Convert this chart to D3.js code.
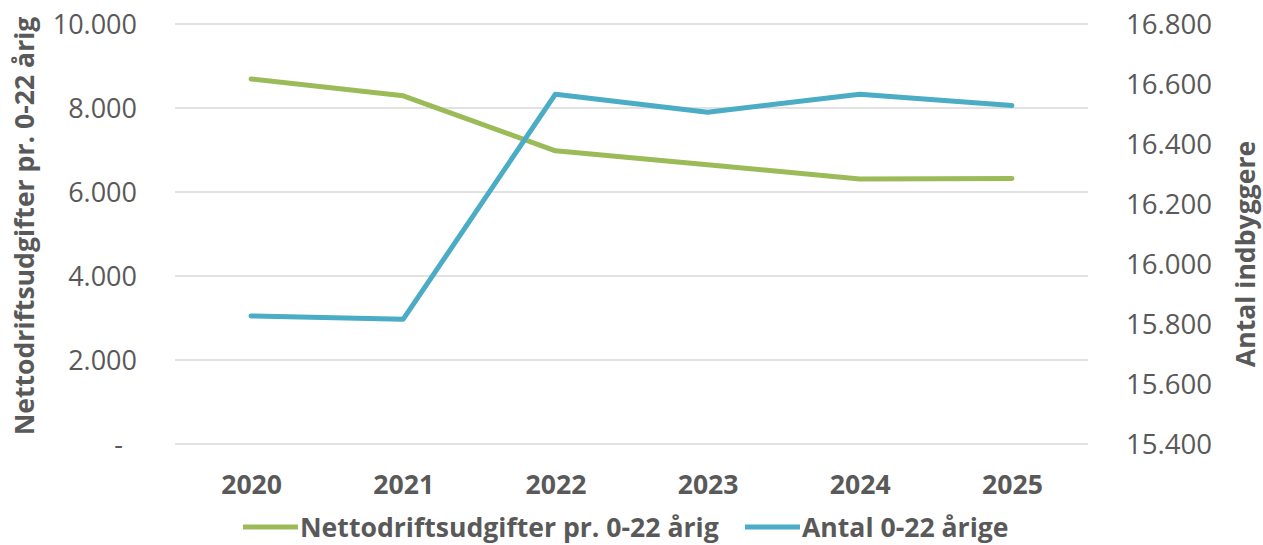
<!DOCTYPE html>
<html>
<head>
<meta charset="utf-8">
<script src="https://cdn.jsdelivr.net/npm/d3@7"></script>
<style>
  body { margin: 0; background: #fff; }
  svg { display: block; font-family: "Open Sans", sans-serif; }
</style>
</head>
<body>
<svg id="chart"></svg>
<script>
const years = ["2020", "2021", "2022", "2023", "2024", "2025"];
const nettoUdgift = [8690, 8290, 6980, 6650, 6310, 6320];
const antalBorn = [15827, 15816, 16566, 16506, 16566, 16528];
const leftTicks = [0, 2000, 4000, 6000, 8000, 10000];
const rightTicks = [15400, 15600, 15800, 16000, 16200, 16400, 16600, 16800];
const seriesNames = ["Nettodriftsudgifter pr. 0-22 årig", "Antal 0-22 årige"];

const width = 1263, height = 545;
const svg = d3.select("#chart").attr("width", width).attr("height", height);

const margin = {top: 24, right: 175, bottom: 101, left: 175};
const textCol = "#595959";
const green = "#9bbb59", blue = "#4bacc6";
const boldSize = 26.6;

const x = d3.scalePoint()
    .domain(years)
    .range([margin.left, width - margin.right])
    .padding(0.5);

const yLeft = d3.scaleLinear()
    .domain([0, 10000])
    .range([height - margin.bottom, margin.top]);

const yRight = d3.scaleLinear()
    .domain([15400, 16800])
    .range([height - margin.bottom, margin.top]);

const fmt = v => v === 0 ? "-" : d3.format(",")(v).replace(/,/g, ".");

// gridlines (left axis only)
svg.append("g")
  .selectAll("line")
  .data(leftTicks)
  .join("line")
    .attr("x1", margin.left)
    .attr("x2", width - margin.right)
    .attr("y1", d => yLeft(d))
    .attr("y2", d => yLeft(d))
    .attr("stroke", "#d9d9d9")
    .attr("stroke-width", 1.5);

// left axis
const gl = svg.append("g")
    .attr("transform", `translate(${margin.left - 38},0)`)
    .call(d3.axisLeft(yLeft).tickValues(leftTicks).tickFormat(fmt).tickSize(0).tickPadding(0));
gl.select(".domain").remove();
gl.selectAll("text")
    .attr("fill", textCol)
    .attr("font-size", 27)
    .attr("font-family", "Open Sans")
    .attr("dy", "0.36em")
    .attr("dx", d => d === 0 ? -14 : 0);

// right axis
const gr = svg.append("g")
    .attr("transform", `translate(${width - margin.right + 38},0)`)
    .call(d3.axisRight(yRight).tickValues(rightTicks).tickFormat(fmt).tickSize(0).tickPadding(0));
gr.select(".domain").remove();
gr.selectAll("text")
    .attr("fill", textCol)
    .attr("font-size", 27.6)
    .attr("font-family", "Open Sans")
    .attr("dy", "0.36em");

// x axis
const gx = svg.append("g")
    .attr("transform", `translate(0,${height - margin.bottom})`)
    .call(d3.axisBottom(x).tickSize(0).tickPadding(31));
gx.select(".domain").remove();
gx.selectAll("text")
    .attr("fill", textCol)
    .attr("font-size", boldSize)
    .attr("font-weight", "bold")
    .attr("font-family", "Open Sans");

// axis titles
svg.append("text")
    .attr("transform", `translate(34,226) rotate(-90)`)
    .attr("text-anchor", "middle")
    .attr("fill", textCol)
    .attr("font-size", boldSize)
    .attr("font-weight", "bold")
    .text(seriesNames[0]);

svg.append("text")
    .attr("transform", `translate(1255,254) rotate(-90)`)
    .attr("text-anchor", "middle")
    .attr("fill", textCol)
    .attr("font-size", boldSize)
    .attr("font-weight", "bold")
    .text("Antal indbyggere");

// lines
const lineLeft = d3.line().x((d, i) => x(years[i])).y(d => yLeft(d));
const lineRight = d3.line().x((d, i) => x(years[i])).y(d => yRight(d));

svg.append("path")
    .datum(nettoUdgift)
    .attr("d", lineLeft)
    .attr("fill", "none")
    .attr("stroke", green)
    .attr("stroke-width", 5)
    .attr("stroke-linecap", "round")
    .attr("stroke-linejoin", "round");

svg.append("path")
    .datum(antalBorn)
    .attr("d", lineRight)
    .attr("fill", "none")
    .attr("stroke", blue)
    .attr("stroke-width", 5)
    .attr("stroke-linecap", "round")
    .attr("stroke-linejoin", "round");

// legend
const legendItems = [
  {name: seriesNames[0], color: green, x: 243},
  {name: seriesNames[1], color: blue, x: 745}
];
const lg = svg.append("g").attr("transform", "translate(0,527)");
const li = lg.selectAll("g").data(legendItems).join("g")
    .attr("transform", d => `translate(${d.x},0)`);
li.append("line")
    .attr("x1", 0).attr("x2", 55)
    .attr("stroke", d => d.color)
    .attr("stroke-width", 5);
li.append("text")
    .attr("x", 57)
    .attr("dy", "0.36em")
    .attr("fill", textCol)
    .attr("font-size", boldSize)
    .attr("font-weight", "bold")
    .text(d => d.name);
</script>
</body>
</html>
